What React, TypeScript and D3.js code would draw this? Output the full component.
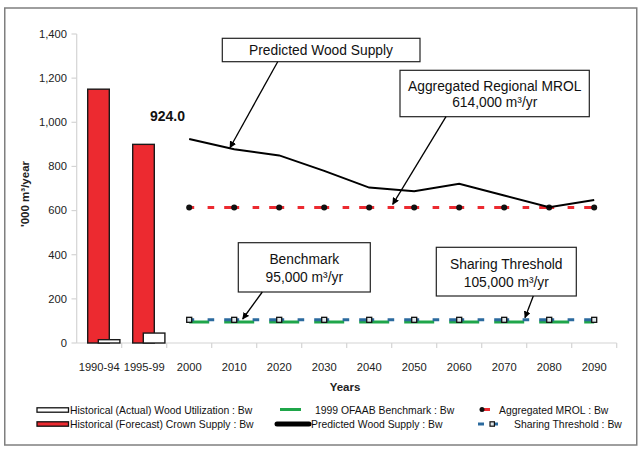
import React from "react";
import * as d3 from "d3";

const categories = ["1990-94", "1995-99", "2000", "2010", "2020", "2030", "2040", "2050", "2060", "2070", "2080", "2090"];
const historyCats = ["1990-94", "1995-99"];
const crownSupply = [1150, 900];
const actualUtilization = [15, 45];
const lineCats = ["2000", "2010", "2020", "2030", "2040", "2050", "2060", "2070", "2080", "2090"];
const predictedSupply = [924, 878, 850, 780, 704, 688, 721, 668, 615, 648];
const mrol = [614, 614, 614, 614, 614, 614, 614, 614, 614, 614];
const benchmark = [95, 95, 95, 95, 95, 95, 95, 95, 95, 95];
const sharingThreshold = [105, 105, 105, 105, 105, 105, 105, 105, 105, 105];
const yTicks = [0, 200, 400, 600, 800, 1000, 1200, 1400];

const FONT = "'Liberation Sans', Arial, Helvetica, sans-serif";
const RED = "#ec2a30";
const GREEN = "#1fa64a";
const BLUE = "#2b6a9e";

export default function App() {
  const W = 640, H = 453;
  const x = d3.scaleBand<string>().domain(categories).range([76.7, 616.7]).paddingInner(0).paddingOuter(0);
  const y = d3.scaleLinear().domain([0, 1400]).range([343, 34]);
  const bw = x.bandwidth();
  const cx = (c: string) => (x(c) as number) + bw / 2;
  const k = bw / 45;

  const line = d3.line<[number, number]>().x(d => d[0]).y(d => d[1]);
  const pts = (vals: number[]) => lineCats.map((c, i) => [cx(c), y(vals[i])] as [number, number]);

  const fmt = d3.format(",");

  const arrow = (x1: number, y1: number, x2: number, y2: number, key: string) => (
    <line key={key} x1={x1} y1={y1} x2={x2} y2={y2} stroke="#000" strokeWidth={1.3} markerEnd="url(#ah)" />
  );

  return (
    <svg width={W} height={H} style={{ position: "absolute", left: 0, top: 0, background: "#fff" }} fontFamily={FONT}>
      <defs>
        <marker id="ah" viewBox="0 0 10 10" refX="9" refY="5" markerWidth="7" markerHeight="7" markerUnits="userSpaceOnUse" orient="auto">
          <path d="M0,0 L10,5 L0,10 z" fill="#000" />
        </marker>
      </defs>
      <rect x={0} y={0} width={W} height={H} fill="#fff" />
      <rect x={4.75} y={8} width={632} height={437} fill="none" stroke="#7f7f7f" strokeWidth={1.5} />

      {/* Y axis */}
      <line x1={76.7} x2={76.7} y1={y(1400)} y2={y(0)} stroke="#d4d4d4" strokeWidth={1.2} />
      {yTicks.map(t => (
        <g key={t}>
          <line x1={71.5} x2={76.7} y1={y(t)} y2={y(t)} stroke="#d4d4d4" strokeWidth={1.2} />
          <text x={67} y={y(t)} dy="0.35em" textAnchor="end" fontSize={11.2} fill="#222">{fmt(t)}</text>
        </g>
      ))}
      {/* X axis */}
      <line x1={76.7} x2={616.7} y1={y(0)} y2={y(0)} stroke="#d4d4d4" strokeWidth={1.2} />
      {categories.map((c, i) => (
        <line key={"t" + c} x1={(x(c) as number) + bw} x2={(x(c) as number) + bw} y1={y(0)} y2={y(0) + 5} stroke="#d4d4d4" strokeWidth={1.2} />
      ))}
      {categories.map(c => (
        <text key={"l" + c} x={cx(c)} y={371} textAnchor="middle" fontSize={11.2} fill="#222">{c}</text>
      ))}
      <text x={345} y={391} textAnchor="middle" fontSize={11.5} fontWeight="bold" fill="#222">Years</text>
      <text transform={`translate(29,194) rotate(-90)`} textAnchor="middle" fontSize={11.5} fontWeight="bold" fill="#222">'000 m³/year</text>

      {/* Bars */}
      {historyCats.map((c, i) => (
        <rect key={"r" + c} x={(x(c) as number) + 11 * k} y={y(crownSupply[i])} width={21.6 * k} height={y(0) - y(crownSupply[i])} fill={RED} stroke="#1a1a1a" strokeWidth={1.4} />
      ))}
      {historyCats.map((c, i) => (
        <rect key={"w" + c} x={(x(c) as number) + 21.6 * k} y={y(actualUtilization[i])} width={21.6 * k} height={y(0) - y(actualUtilization[i])} fill="#fff" stroke="#1a1a1a" strokeWidth={1.4} />
      ))}

      {/* Benchmark green long dash */}
      <path d={line(pts(benchmark)) as string} fill="none" stroke={GREEN} strokeWidth={3} strokeDasharray={`${30 * k} ${15 * k}`} strokeDashoffset={10 * k} />
      {/* Sharing threshold blue dash */}
      <path d={line(pts(sharingThreshold)) as string} fill="none" stroke={BLUE} strokeWidth={3} strokeDasharray={`${15 * k} ${13.4 * k} ${6.6 * k} ${10 * k}`} strokeDashoffset={10 * k} />
      {pts(sharingThreshold).map((p, i) => (
        <rect key={"s" + i} x={p[0] - 2.5} y={p[1] - 2.5} width={5} height={5} fill="#dfe6ea" stroke="#111" strokeWidth={1.3} />
      ))}

      {/* MROL red dash */}
      <path d={line(pts(mrol)) as string} fill="none" stroke={RED} strokeWidth={3} strokeDasharray={`${15 * k} ${13.4 * k} ${6.6 * k} ${10 * k}`} strokeDashoffset={10 * k} />
      {pts(mrol).map((p, i) => (
        <circle key={"m" + i} cx={p[0]} cy={p[1]} r={3} fill="#111" />
      ))}

      {/* Predicted wood supply */}
      <path d={line(pts(predictedSupply)) as string} fill="none" stroke="#000" strokeWidth={2} />

      <text x={167.5} y={120.5} textAnchor="middle" fontSize={14} fontWeight="bold" fill="#111">924.0</text>

      {/* Annotations */}
      <rect x={222.3} y={38.3} width={197.7} height={23.4} fill="#fff" stroke="#222" strokeWidth={1.2} />
      <text x={321} y={50} dy="0.35em" textAnchor="middle" fontSize={13.8} fill="#111">Predicted Wood Supply</text>
      {arrow(277.7, 61.7, 230, 147.7, "a1")}

      <rect x={400} y={70.3} width={189.3} height={46.4} fill="#fff" stroke="#222" strokeWidth={1.2} />
      <text x={494.7} y={85.7} dy="0.35em" textAnchor="middle" fontSize={13.8} fill="#111">Aggregated Regional MROL</text>
      <text x={494.7} y={102.3} dy="0.35em" textAnchor="middle" fontSize={13.8} fill="#111">614,000 m³/yr</text>
      {arrow(446, 116.7, 392.7, 204.3, "a2")}

      <rect x={238.3} y={242.7} width={132} height={49.3} fill="#fff" stroke="#222" strokeWidth={1.2} />
      <text x={304.3} y={259} dy="0.35em" textAnchor="middle" fontSize={13.8} fill="#111">Benchmark</text>
      <text x={304.3} y={276.7} dy="0.35em" textAnchor="middle" fontSize={13.8} fill="#111">95,000 m³/yr</text>
      {arrow(262.3, 292, 242.7, 319, "a3")}

      <rect x={436.3} y={247.3} width={140} height={48.7} fill="#fff" stroke="#222" strokeWidth={1.2} />
      <text x={506.3} y={264.3} dy="0.35em" textAnchor="middle" fontSize={13.8} fill="#111">Sharing Threshold</text>
      <text x={506.3} y={281.7} dy="0.35em" textAnchor="middle" fontSize={13.8} fill="#111">105,000 m³/yr</text>
      {arrow(533.3, 296, 525, 317.7, "a4")}

      {/* Legend */}
      <g fontSize={10.4} fill="#111">
        <rect x={37} y={407.8} width={31.5} height={4.4} fill="#fff" stroke="#111" strokeWidth={1.3} />
        <text x={70} y={410} dy="0.35em">Historical (Actual) Wood Utilization : Bw</text>
        <rect x={37} y={421.8} width={31.5} height={4.4} fill={RED} stroke="#111" strokeWidth={1.3} />
        <text x={70} y={424} dy="0.35em">Historical (Forecast) Crown Supply : Bw</text>

        <line x1={280} x2={301} y1={409.5} y2={409.5} stroke={GREEN} strokeWidth={3} />
        <text x={315} y={410} dy="0.35em">1999 OFAAB Benchmark : Bw</text>
        <line x1={277} x2={309} y1={424} y2={424} stroke="#000" strokeWidth={5} strokeLinecap="round" />
        <text x={311} y={424} dy="0.35em">Predicted Wood Supply : Bw</text>

        <line x1={483} x2={490} y1={409.5} y2={409.5} stroke={RED} strokeWidth={3} />
        <circle cx={482} cy={409.5} r={2.5} fill="#111" />
        <text x={499} y={410} dy="0.35em">Aggregated MROL : Bw</text>
        <line x1={478} x2={484} y1={424} y2={424} stroke={BLUE} strokeWidth={3} />
        <line x1={492} x2={498} y1={424} y2={424} stroke={BLUE} strokeWidth={3} />
        <rect x={490} y={421.8} width={4.4} height={4.4} fill="#dfe6ea" stroke="#111" strokeWidth={1.2} />
        <text x={514} y={424} dy="0.35em">Sharing Threshold : Bw</text>
      </g>
    </svg>
  );
}
